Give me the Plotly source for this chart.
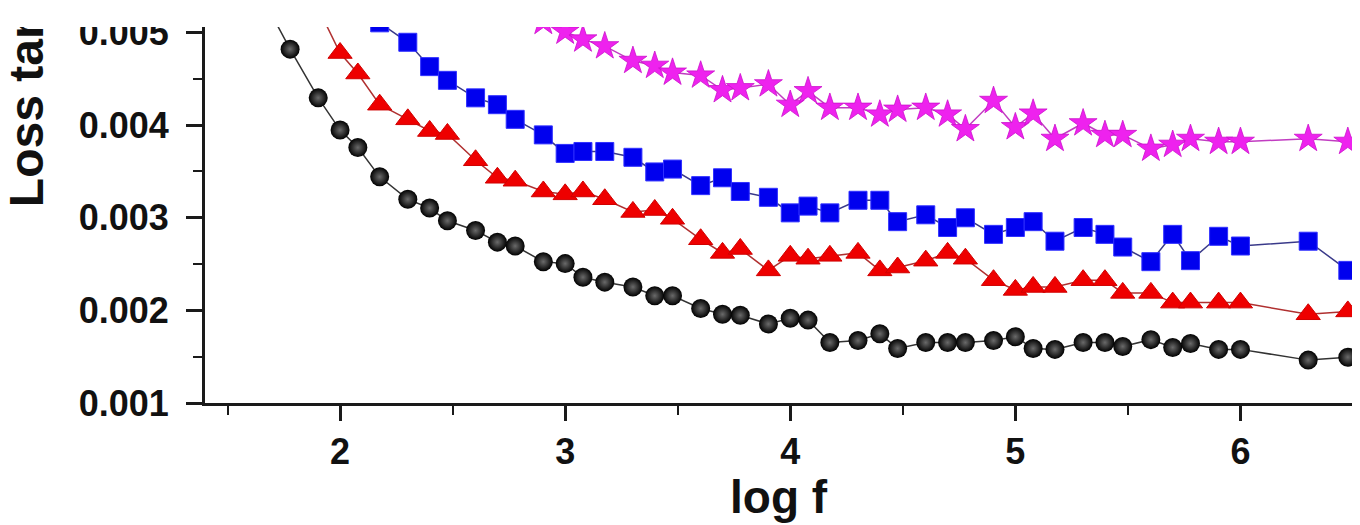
import plotly.graph_objects as go

# log f values (f = 50 Hz ... 3 MHz); first entry of each series is an off-chart point
logf = [1.699, 1.778, 1.903, 2.000, 2.079, 2.176, 2.301, 2.398, 2.477, 2.602, 2.699, 2.778, 2.903,
        3.000, 3.079, 3.176, 3.301, 3.398, 3.477, 3.602, 3.699, 3.778, 3.903,
        4.000, 4.079, 4.176, 4.301, 4.398, 4.477, 4.602, 4.699, 4.778, 4.903,
        5.000, 5.079, 5.176, 5.301, 5.398, 5.477, 5.602, 5.699, 5.778, 5.903,
        6.000, 6.301, 6.477]

black_y = [0.00518, 0.004821, 0.004295, 0.003947, 0.003758, 0.003442, 0.003200, 0.003105, 0.002968,
           0.002863, 0.002737, 0.002695, 0.002526, 0.002505, 0.002358, 0.002305, 0.002253, 0.002158,
           0.002158, 0.002021, 0.001958, 0.001947, 0.001853, 0.001916, 0.001895, 0.001653, 0.001674,
           0.001747, 0.001589, 0.001653, 0.001653, 0.001653, 0.001674, 0.001716, 0.001589, 0.001579,
           0.001653, 0.001653, 0.001611, 0.001684, 0.001600, 0.001642, 0.001579, 0.001579, 0.001463,
           0.001495]

red_x = logf[2:]
red_y = [0.00526, 0.004779, 0.004558, 0.004221, 0.004063, 0.003937, 0.003905, 0.003621, 0.003432,
         0.003400, 0.003284, 0.003253, 0.003284, 0.003200, 0.003063, 0.003084, 0.002989, 0.002768,
         0.002621, 0.002663, 0.002432, 0.002589, 0.002558, 0.002589, 0.002621, 0.002432, 0.002463,
         0.002537, 0.002621, 0.002558, 0.002326, 0.002221, 0.002253, 0.002253, 0.002326, 0.002326,
         0.002189, 0.002189, 0.002084, 0.002084, 0.002084, 0.002084, 0.001958, 0.001989]

blue_x = logf[4:]
blue_y = [0.00540, 0.005105, 0.004895, 0.004632, 0.004484, 0.004295, 0.004221, 0.004063, 0.003895,
          0.003695, 0.003716, 0.003716, 0.003653, 0.003495, 0.003526, 0.003347, 0.003432, 0.003284,
          0.003221, 0.003053, 0.003126, 0.003053, 0.003189, 0.003189, 0.002958, 0.003032, 0.002895,
          0.003000, 0.002821, 0.002895, 0.002958, 0.002747, 0.002895, 0.002821, 0.002684, 0.002526,
          0.002821, 0.002537, 0.002800, 0.002695, 0.002747, 0.002432]

mag_x = logf[11:]
mag_y = [0.00530, 0.005116, 0.005011, 0.004926, 0.004853, 0.004695, 0.004642, 0.004568, 0.004537,
         0.004379, 0.004400, 0.004442, 0.004221, 0.004368, 0.004189, 0.004189, 0.004116, 0.004168,
         0.004189, 0.004116, 0.003958, 0.004263, 0.003979, 0.004126, 0.003853, 0.004021, 0.003895,
         0.003895, 0.003747, 0.003789, 0.003853, 0.003821, 0.003821, 0.003853, 0.003821]

x_ticks = [2, 3, 4, 5, 6]
y_ticks = [0.001, 0.002, 0.003, 0.004, 0.005]
y_ticktext = ["0.001", "0.002", "0.003", "0.004", "0.005"]

FONT = "Liberation Sans, Arial, sans-serif"

fig = go.Figure()
fig.add_trace(go.Scatter(
    x=mag_x, y=mag_y, mode="lines+markers",
    line=dict(color="#c13cc1", width=1.5),
    marker=dict(symbol="star", size=21, color="#ee22ee", line=dict(width=0.8, color="#cc10cc"))))
fig.add_trace(go.Scatter(
    x=blue_x, y=blue_y, mode="lines+markers",
    line=dict(color="#3a3a8a", width=1.5),
    marker=dict(symbol="square", size=18, color="#0000ee", line=dict(width=1, color="#3030ff"))))
fig.add_trace(go.Scatter(
    x=red_x, y=red_y, mode="lines+markers",
    line=dict(color="#b03030", width=1.5),
    marker=dict(symbol="triangle-up", size=21, color="#ee0000", line=dict(width=1, color="#d00000"))))
fig.add_trace(go.Scatter(
    x=logf, y=black_y, mode="lines+markers",
    line=dict(color="#333333", width=1.5),
    marker=dict(symbol="circle", size=19, color="#000000",
                gradient=dict(type="radial", color="#6a6a6a"), line=dict(width=0))))

# the page body adds an 8 px offset; figure size and margins compensate for it
fig.update_layout(
    width=1352, height=517,
    margin=dict(l=197, r=4, t=9, b=122),
    paper_bgcolor="white", plot_bgcolor="white",
    showlegend=False,
    font=dict(family=FONT, color="black"),
    xaxis=dict(
        range=[1.4, 6.5], tickmode="array", tickvals=x_ticks,
        ticks="outside", ticklen=15, tickwidth=2.5, tickcolor="#1a1a1a",
        showline=True, linewidth=3, linecolor="#1a1a1a", mirror=False,
        showgrid=False, zeroline=False,
        tickfont=dict(family=FONT, size=36, color="#111", weight="bold"),
        ticklabelstandoff=0,
        minor=dict(dtick=0.5, tick0=1.5, ticks="outside", ticklen=9, tickwidth=2, tickcolor="#1a1a1a", showgrid=False),
    ),
    yaxis=dict(
        range=[0.001, 0.00506], tickmode="array", tickvals=y_ticks, ticktext=y_ticktext,
        ticks="outside", ticklen=16, tickwidth=2.5, tickcolor="#1a1a1a",
        showline=True, linewidth=3, linecolor="#1a1a1a", mirror=True,
        showgrid=False, zeroline=False,
        tickfont=dict(family=FONT, size=36, color="#111", weight="bold"),
        ticklabelstandoff=10, ticklabeloverflow="allow",
        minor=dict(dtick=0.0005, tick0=0.0005, ticks="outside", ticklen=9, tickwidth=2, tickcolor="#1a1a1a", showgrid=False),
    ),
    annotations=[
        dict(text="<b>log f</b>", xref="paper", yref="paper", x=0.5, y=-0.249,
             xanchor="center", yanchor="middle", showarrow=False,
             font=dict(family=FONT, size=46, color="#111")),
        dict(text="<b>Loss tangent</b>", xref="paper", yref="paper", x=-0.1555, y=0.5155,
             xanchor="center", yanchor="bottom", textangle=-90, showarrow=False,
             font=dict(family=FONT, size=48, color="#111")),
        dict(text=" ", xref="paper", yref="paper", x=0.4127, y=1.0,
             xanchor="center", yanchor="bottom", showarrow=False,
             width=1400, height=20, bgcolor="white", borderpad=0, borderwidth=0),
    ],
)

fig.write_html("out.html")
